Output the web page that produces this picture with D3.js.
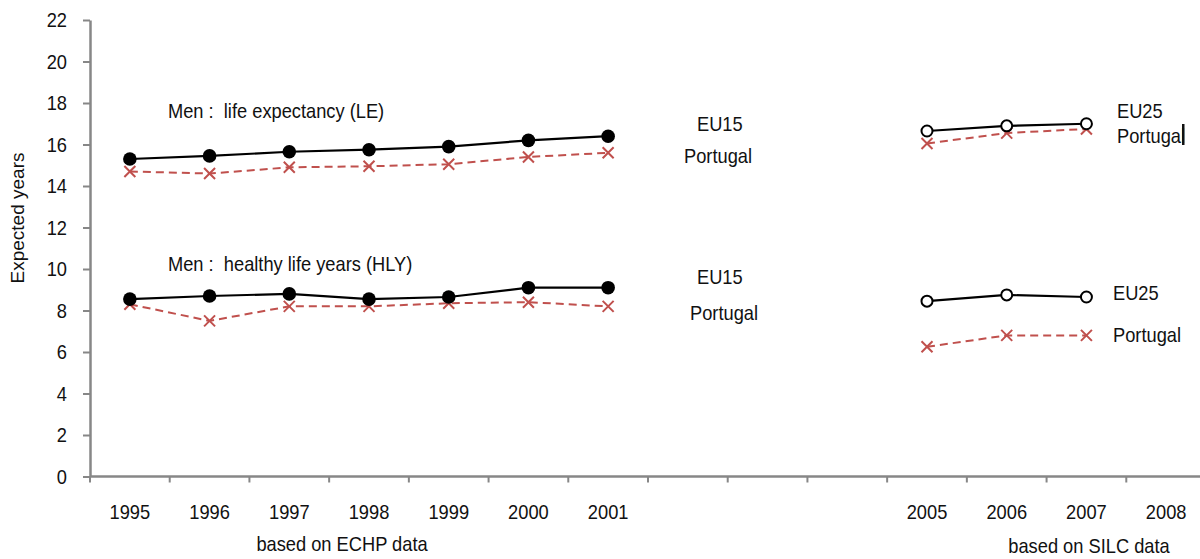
<!DOCTYPE html>
<html>
<head>
<meta charset="utf-8">
<script src="https://cdnjs.cloudflare.com/ajax/libs/d3/7.8.5/d3.min.js"></script>
<style>
  body { margin: 0; background: #fff; }
  text { font-family: "Liberation Sans Narrow", "Arial Narrow", "Liberation Sans", Arial, sans-serif; fill: #111; white-space: pre; }
</style>
</head>
<body>
<script>
// categories (2002-2004 are empty slots)
var years = ["1995", "1996", "1997", "1998", "1999", "2000", "2001", "2002", "2003", "2004", "2005", "2006", "2007", "2008"];
var yearLabels = ["1995", "1996", "1997", "1998", "1999", "2000", "2001", "", "", "", "2005", "2006", "2007", "2008"];
var echpYears = ["1995", "1996", "1997", "1998", "1999", "2000", "2001"];
var silcYears = ["2005", "2006", "2007"];
var yTicks = [0, 2, 4, 6, 8, 10, 12, 14, 16, 18, 20, 22];

// series values
var eu15LE = [15.3, 15.45, 15.65, 15.75, 15.9, 16.2, 16.4];
var ptLE_echp = [14.7, 14.6, 14.9, 14.95, 15.05, 15.4, 15.6];
var eu15HLY = [8.55, 8.7, 8.8, 8.55, 8.65, 9.1, 9.1];
var ptHLY_echp = [8.3, 7.5, 8.2, 8.2, 8.35, 8.4, 8.2];
var eu25LE = [16.65, 16.9, 17.0];
var ptLE_silc = [16.05, 16.55, 16.75];
var eu25HLY = [8.45, 8.75, 8.65];
var ptHLY_silc = [6.25, 6.8, 6.8];

var width = 1200;
var height = 559;
var red = "#c0504d";
var axisColor = "#878787";
var sx = 0.87; // squeeze to imitate the narrow font

const svg = d3.select("body")
    .append("svg")
    .attr("width", width)
    .attr("height", height);

const x = d3.scaleBand()
    .domain(years)
    .range([90, 1206])
    .paddingInner(0)
    .paddingOuter(0);

const y = d3.scaleLinear()
    .domain([0, 22])
    .range([476.5, 20]);

// y axis
const yAxis = svg.append("g")
    .attr("transform", "translate(90,0)")
    .call(d3.axisLeft(y).tickValues(yTicks).tickSize(7).tickPadding(16).tickSizeOuter(0));
yAxis.select(".domain").attr("stroke", axisColor).attr("stroke-width", 2.5);
yAxis.selectAll(".tick line").attr("stroke", axisColor).attr("stroke-width", 2);
yAxis.selectAll("text")
    .style("font-size", "21px")
    .attr("x", -23 / sx)
    .attr("transform", "scale(" + sx + ",1)");

// x axis: labels centred in the bands, tick marks on band edges
const xAxis = svg.append("g")
    .attr("transform", "translate(0," + y(0) + ")")
    .call(d3.axisBottom(x).tickSize(0).tickPadding(28).tickSizeOuter(0)
        .tickFormat(function (d, i) { return yearLabels[i]; }));
xAxis.select(".domain").attr("stroke", axisColor).attr("stroke-width", 2.5)
    .attr("d", "M90,0H1200");
xAxis.selectAll("text")
    .style("font-size", "21px")
    .attr("transform", "scale(" + sx + ",1)");
xAxis.selectAll(".edge")
    .data(years)
    .enter()
    .append("line")
    .attr("class", "edge")
    .attr("x1", function (d) { return x(d); })
    .attr("x2", function (d) { return x(d); })
    .attr("y1", 0)
    .attr("y2", 6)
    .attr("stroke", axisColor)
    .attr("stroke-width", 2);

// y title
svg.append("text")
    .attr("transform", "translate(24,218) rotate(-90)")
    .attr("text-anchor", "middle")
    .style("font-size", "19px")
    .text("Expected years");

function cx(d) { return x(d) + x.bandwidth() / 2; }

function drawSeries(yrs, vals, kind) {
    const pts = yrs.map(function (d, i) { return [cx(d), y(vals[i])]; });
    const line = d3.line();
    const isPt = kind === "cross";
    svg.append("path")
        .attr("d", line(pts))
        .attr("fill", "none")
        .attr("stroke", isPt ? red : "#000")
        .attr("stroke-width", isPt ? 2 : 2.2)
        .attr("stroke-dasharray", isPt ? "8,5" : null);
    const g = svg.append("g");
    if (kind === "dot") {
        g.selectAll("circle").data(pts).enter().append("circle")
            .attr("cx", function (p) { return p[0]; })
            .attr("cy", function (p) { return p[1]; })
            .attr("r", 6.8)
            .attr("fill", "#000");
    } else if (kind === "ring") {
        g.selectAll("circle").data(pts).enter().append("circle")
            .attr("cx", function (p) { return p[0]; })
            .attr("cy", function (p) { return p[1]; })
            .attr("r", 5.5)
            .attr("fill", "#fff")
            .attr("stroke", "#000")
            .attr("stroke-width", 2);
    } else {
        g.selectAll("path").data(pts).enter().append("path")
            .attr("d", function (p) {
                var s = 5.5;
                return "M" + (p[0] - s) + "," + (p[1] - s) + "L" + (p[0] + s) + "," + (p[1] + s) +
                    "M" + (p[0] - s) + "," + (p[1] + s) + "L" + (p[0] + s) + "," + (p[1] - s);
            })
            .attr("stroke", red)
            .attr("stroke-width", 2)
            .attr("fill", "none");
    }
}

drawSeries(echpYears, ptLE_echp, "cross");
drawSeries(echpYears, eu15LE, "dot");
drawSeries(echpYears, ptHLY_echp, "cross");
drawSeries(echpYears, eu15HLY, "dot");
drawSeries(silcYears, ptLE_silc, "cross");
drawSeries(silcYears, eu25LE, "ring");
drawSeries(silcYears, ptHLY_silc, "cross");
drawSeries(silcYears, eu25HLY, "ring");

// annotations
function label(tx, ty, s, anchor) {
    svg.append("text")
        .attr("transform", "translate(" + tx + "," + ty + ") scale(" + sx + ",1)")
        .attr("text-anchor", anchor || "start")
        .style("font-size", "21px")
        .text(s);
}
label(168, 118, "Men :  life expectancy (LE)");
label(168, 271, "Men :  healthy life years (HLY)");
label(697, 131, "EU15");
label(684, 163, "Portugal");
label(697, 284, "EU15");
label(690, 320, "Portugal");
label(1117, 118, "EU25");
label(1117, 143, "Portugal");
label(1113, 300, "EU25");
label(1113, 342, "Portugal");

// stray bar after the upper right label, as in the source
svg.append("rect")
    .attr("x", 1182).attr("y", 124)
    .attr("width", 2.5).attr("height", 21)
    .attr("fill", "#111");

label(342, 551, "based on ECHP data", "middle");
label(1089, 553, "based on SILC data", "middle");
</script>
</body>
</html>
